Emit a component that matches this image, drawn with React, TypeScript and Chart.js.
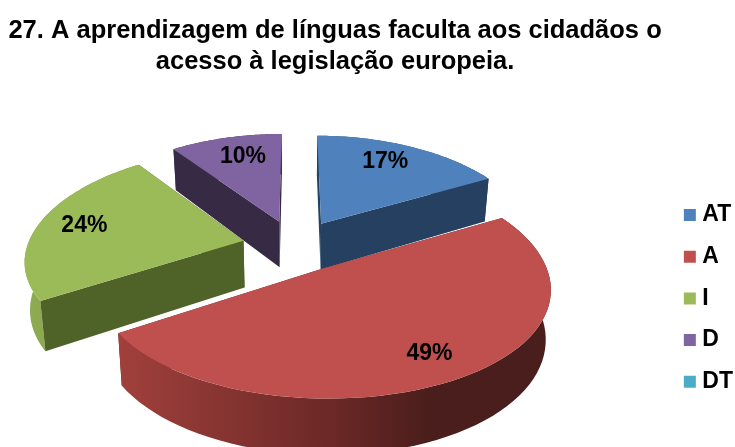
import React, { useEffect, useRef } from "react";
import { Chart, registerables } from "chart.js";

Chart.register(...registerables);

const categories = ["AT", "A", "I", "D", "DT"];
const values = [17, 49, 24, 10, 0];
const titleLines = [
  "27. A aprendizagem de línguas faculta aos cidadãos o",
  "acesso à legislação europeia.",
];
const topColors = ["#4F81BD", "#C0504D", "#9BBB59", "#8064A2", "#4BACC6"];
const cutColors = ["#254061", "#632523", "#4F6228", "#362A44", "#215968"];
const wallStops: [number, string][][] = [
  [[0, "#2F4D71"], [1, "#254061"]],
  [[0, "#A1403C"], [0.5, "#6A2826"], [0.72, "#4A1E1C"], [1, "#4A1E1C"]],
  [[0, "#8FAC52"], [1, "#7E9A48"]],
  [[0, "#4A3A5E"], [1, "#362A44"]],
  [[0, "#215968"], [1, "#215968"]],
];

const FONT = "'Liberation Sans', Arial, sans-serif";
// Camera of the 3D view: applied to the unit circle of each arc element.
const camera = {
  shiftX: -36,
  shiftY: -1.5,
  scaleX: 216,
  scaleY: 105.6,
  perspective: 0.136,
  widthPerspective: 0.03,
  depth: 47,
  taper: 0.02,
};
const labelRadius = [0.77, 0.8, 0.78, 0.74, 0.8];
const labelAngleBias = [-3, 0, 0, 2, 0];
const LEGEND_SHIFT = 8;
const TITLE_SHIFT = 4;

const pie3d = {
  id: "pie3d",
  afterLayout(chart: any) {
    chart.legend.left += LEGEND_SHIFT;
    chart.legend.right += LEGEND_SHIFT;
    chart.titleBlock.left += TITLE_SHIFT;
    chart.titleBlock.right += TITLE_SHIFT;
  },
  beforeDatasetDraw(chart: any) {
    const ctx: CanvasRenderingContext2D = chart.ctx;
    const arcs: any[] = chart.getDatasetMeta(0).data;
    const first = arcs[0];
    const X0 = first.x + camera.shiftX;
    const Y0 = first.y + camera.shiftY;

    const project = (u: number, v: number, z: number) => {
      const s = 1 / (1 - camera.perspective * v);
      const x =
        camera.scaleX * u * s * (1 + camera.widthPerspective * v) * (1 - camera.taper * z);
      return [X0 + x, Y0 + camera.scaleY * v * s + camera.depth * s * z];
    };
    const polygon = (pts: number[][]) => {
      ctx.beginPath();
      pts.forEach((p, i) => (i ? ctx.lineTo(p[0], p[1]) : ctx.moveTo(p[0], p[1])));
      ctx.closePath();
    };

    const order = [3, 0, 2, 1];
    order.forEach((i) => {
      const arc = arcs[i];
      if (arc.endAngle - arc.startAngle <= 0) return;
      const mid = (arc.startAngle + arc.endAngle) / 2;
      const e = arc.options.offset / arc.outerRadius;
      const apex = [Math.cos(mid) * e, Math.sin(mid) * e];
      const rim: number[][] = [];
      const N = 64;
      for (let k = 0; k <= N; k++) {
        const a = arc.startAngle + ((arc.endAngle - arc.startAngle) * k) / N;
        rim.push([apex[0] + Math.cos(a), apex[1] + Math.sin(a)]);
      }
      const p = (q: number[], z: number) => project(q[0], q[1], z);
      const faces: { v: number; pts: number[][]; outer: boolean }[] = [];
      const radial = (q: number[]) => ({
        v: (apex[1] + q[1]) / 2,
        pts: [p(apex, 0), p(q, 0), p(q, 1), p(apex, 1)],
        outer: false,
      });
      faces.push(radial(rim[0]));
      faces.push(radial(rim[N]));
      faces.push({
        v: rim.reduce((t, q) => t + q[1], 0) / rim.length,
        pts: [...rim.map((q) => p(q, 0)), ...[...rim].reverse().map((q) => p(q, 1))],
        outer: true,
      });
      faces.sort((a, b) => a.v - b.v);
      faces.forEach((f) => {
        polygon(f.pts);
        if (f.outer) {
          const xs = f.pts.map((q) => q[0]);
          const g = ctx.createLinearGradient(Math.min(...xs), 0, Math.max(...xs), 0);
          wallStops[i].forEach(([o, c]) => g.addColorStop(o, c));
          ctx.fillStyle = g;
        } else {
          ctx.fillStyle = cutColors[i];
        }
        ctx.fill();
      });
      polygon([p(apex, 0), ...rim.map((q) => p(q, 0))]);
      ctx.fillStyle = arc.options.backgroundColor;
      ctx.fill();
    });

    ctx.fillStyle = "#000";
    ctx.font = `bold 23px ${FONT}`;
    ctx.textAlign = "center";
    ctx.textBaseline = "middle";
    arcs.forEach((arc, i) => {
      if (arc.endAngle - arc.startAngle <= 0) return;
      const mid = (arc.startAngle + arc.endAngle) / 2;
      const e = arc.options.offset / arc.outerRadius;
      const la = mid + (labelAngleBias[i] * Math.PI) / 180;
      const [x, y] = project(
        Math.cos(mid) * e + Math.cos(la) * labelRadius[i],
        Math.sin(mid) * e + Math.sin(la) * labelRadius[i],
        0
      );
      ctx.fillText(`${values[i]}%`, x, y);
    });
    return false;
  },
};

export default function App() {
  const ref = useRef<HTMLCanvasElement>(null);
  useEffect(() => {
    const chart = new Chart(ref.current!, {
      type: "pie",
      data: {
        labels: categories,
        datasets: [
          {
            data: values,
            backgroundColor: topColors,
            borderWidth: 0,
            offset: 36,
          },
        ],
      },
      options: {
        responsive: false,
        animation: false,
        rotation: 0,
        layout: { padding: { bottom: 35 } },
        plugins: {
          tooltip: { enabled: false },
          title: {
            display: true,
            text: titleLines,
            fullSize: false,
            color: "#000",
            font: { family: FONT, size: 25.5, weight: "bold", lineHeight: 1.216 },
            padding: { top: 15, bottom: 5 },
          },
          legend: {
            position: "right",
            align: "end",
            labels: {
              usePointStyle: true,
              pointStyle: "rect",
              boxWidth: 2,
              boxHeight: 12,
              padding: 18.7,
              color: "#000",
              font: { family: FONT, size: 23, weight: "bold" },
            },
          },
        },
      },
      plugins: [pie3d],
    } as any);
    return () => chart.destroy();
  }, []);
  return (
    <div style={{ position: "absolute", left: 0, top: 0, width: 735, height: 447, background: "#fff" }}>
      <canvas ref={ref} width={735} height={447} style={{ display: "block" }} />
    </div>
  );
}
